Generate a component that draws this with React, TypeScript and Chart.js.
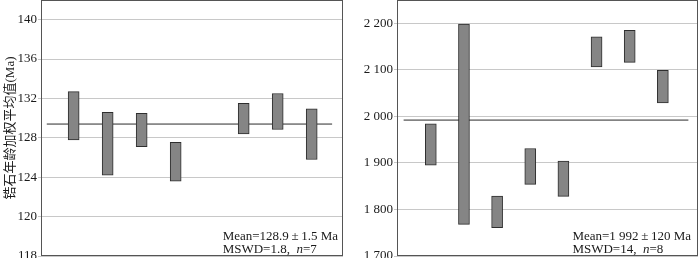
import React, { useEffect, useRef } from "react";
import { Chart, registerables } from "chart.js";

Chart.register(...registerables);

// ---- Left panel data ----
const leftSlots = [1, 2, 3, 4, 6, 7, 8];
const leftLow = [127.8, 124.2, 127.1, 123.6, 128.4, 128.85, 125.8];
const leftHigh = [132.7, 130.6, 130.5, 127.55, 131.5, 132.5, 130.95];
const leftMean = 129.4;
const leftMeanSpan = [0.21, 8.6];
const leftTicks = [116, 120, 124, 128, 132, 136, 140];
const leftTickLabels = ["118", "120", "124", "128", "132", "136", "140"];
const leftYRange = [116, 142];
const leftXRange = [0.04, 8.92];
const leftNote1 = "Mean=128.9\u2009±\u20091.5 Ma";
const leftNote2 = ["MSWD=1.8,  ", "n", "=7"];

// ---- Right panel data ----
const rightSlots = [1, 2, 3, 4, 5, 6, 7, 8];
const rightLow = [1895, 1768, 1761, 1854, 1828, 2106, 2116, 2029];
const rightHigh = [1984, 2198, 1829, 1931, 1904, 2171, 2185, 2099];
const rightMean = 1992;
const rightMeanSpan = [0.18, 8.77];
const rightTicks = [1700, 1800, 1900, 2000, 2100, 2200];
const rightTickLabels = ["1 700", "1 800", "1 900", "2 000", "2 100", "2 200"];
const rightYRange = [1700, 2250];
const rightXRange = [-0.02, 9.06];
const rightNote1 = "Mean=1 992\u2009±\u2009120 Ma";
const rightNote2 = ["MSWD=14,  ", "n", "=8"];

const yTitle = "锆石年龄加权平均值(Ma)";
const SERIF = "'Liberation Serif', 'Noto Sans CJK SC', serif";

const framePlugin = {
  id: "frame",
  afterDraw(chart: any) {
    const { ctx, chartArea } = chart;
    const { left, top, right, bottom } = chartArea;
    ctx.save();
    ctx.strokeStyle = "#555";
    ctx.lineWidth = 1;
    ctx.strokeRect(Math.round(left) + 0.5, Math.round(top) + 0.5, Math.round(right - left) - 1, Math.round(bottom - top) - 1);
    ctx.restore();
  },
};

const notePlugin = {
  id: "note",
  afterDraw(chart: any, _args: any, opts: any) {
    const { ctx, chartArea } = chart;
    if (!opts || !opts.line1) return;
    const rightX = chartArea.right - opts.inset;
    ctx.save();
    ctx.fillStyle = "#1a1a1a";
    ctx.textBaseline = "alphabetic";
    ctx.textAlign = "left";
    const normal = `13px ${SERIF}`;
    const italic = `italic 13px ${SERIF}`;
    ctx.font = normal;
    const w1 = ctx.measureText(opts.line1).width;
    ctx.fillText(opts.line1, rightX - w1, opts.y1);
    const segs: string[] = opts.line2;
    const widths = segs.map((s, i) => {
      ctx.font = i === 1 ? italic : normal;
      return ctx.measureText(s).width;
    });
    let x = rightX - w1;
    segs.forEach((s, i) => {
      ctx.font = i === 1 ? italic : normal;
      ctx.fillText(s, x, opts.y2);
      x += widths[i];
    });
    ctx.restore();
  },
};

type PanelProps = {
  width: number;
  axisWidth: number;
  slots: number[];
  low: number[];
  high: number[];
  mean: number;
  meanSpan: number[];
  ticks: number[];
  tickLabels: string[];
  yRange: number[];
  xRange: number[];
  note1: string;
  note2: string[];
  noteInset: number;
  showTitle: boolean;
};

function Panel(p: PanelProps) {
  const ref = useRef<HTMLCanvasElement | null>(null);
  useEffect(() => {
    if (!ref.current) return;
    const chart = new Chart(ref.current, {
      type: "bar",
      data: {
        datasets: [
          {
            type: "bar",
            data: p.slots.map((s, i) => ({ x: s, y: [p.low[i], p.high[i]] })) as any,
            backgroundColor: "#858585",
            borderColor: "#2e2e2e",
            borderWidth: 1,
            borderSkipped: false,
            barThickness: 11,
            order: 0,
          } as any,
          {
            type: "line",
            data: p.meanSpan.map((x) => ({ x, y: p.mean })) as any,
            borderColor: "#2a2a2a",
            borderWidth: 1,
            pointRadius: 0,
            fill: false,
            order: 1,
          } as any,
        ],
      },
      options: {
        animation: false,
        responsive: false,
        maintainAspectRatio: false,
        layout: { padding: { left: 0, right: 2, top: 0, bottom: 2 } },
        plugins: {
          legend: { display: false },
          tooltip: { enabled: false },
          note: {
            line1: p.note1,
            line2: p.note2,
            inset: p.noteInset,
            y1: 240,
            y2: 253,
          },
        } as any,
        scales: {
          x: {
            type: "linear",
            display: false,
            offset: false,
            min: p.xRange[0],
            max: p.xRange[1],
          },
          y: {
            type: "linear",
            min: p.yRange[0],
            max: p.yRange[1],
            border: { display: false },
            grid: {
              color: "#c8c8c8",
              lineWidth: 1,
              tickLength: 3,
              drawTicks: true,
            },
            ticks: {
              padding: 1,
              color: "#1a1a1a",
              font: { family: SERIF, size: 13 },
              callback: (v: any) => {
                const idx = p.ticks.indexOf(Number(v));
                return idx >= 0 ? p.tickLabels[idx] : "";
              },
            },
            afterBuildTicks: (scale: any) => {
              scale.ticks = p.ticks.map((v) => ({ value: v }));
            },
            afterFit: (scale: any) => {
              scale.width = p.axisWidth;
              scale.paddingTop = 0;
              scale.paddingBottom = 0;
            },
            title: {
              display: p.showTitle,
              text: yTitle,
              color: "#1a1a1a",
              font: { family: SERIF, size: 13 },
              padding: { top: 3, bottom: 0 },
            },
          },
        },
      } as any,
      plugins: [framePlugin, notePlugin],
    });
    return () => chart.destroy();
  }, []);
  return <canvas ref={ref} width={p.width} height={258} style={{ display: "block", width: p.width, height: 258 }} />;
}

export default function App() {
  return (
    <div style={{ position: "fixed", left: 0, top: 0, width: 700, height: 258, display: "flex", background: "#fff" }}>
      <Panel
        width={345}
        axisWidth={41}
        slots={leftSlots}
        low={leftLow}
        high={leftHigh}
        mean={leftMean}
        meanSpan={leftMeanSpan}
        ticks={leftTicks}
        tickLabels={leftTickLabels}
        yRange={leftYRange}
        xRange={leftXRange}
        note1={leftNote1}
        note2={leftNote2}
        noteInset={5}
        showTitle={true}
      />
      <Panel
        width={355}
        axisWidth={52}
        slots={rightSlots}
        low={rightLow}
        high={rightHigh}
        mean={rightMean}
        meanSpan={rightMeanSpan}
        ticks={rightTicks}
        tickLabels={rightTickLabels}
        yRange={rightYRange}
        xRange={rightXRange}
        note1={rightNote1}
        note2={rightNote2}
        noteInset={7}
        showTitle={false}
      />
    </div>
  );
}
